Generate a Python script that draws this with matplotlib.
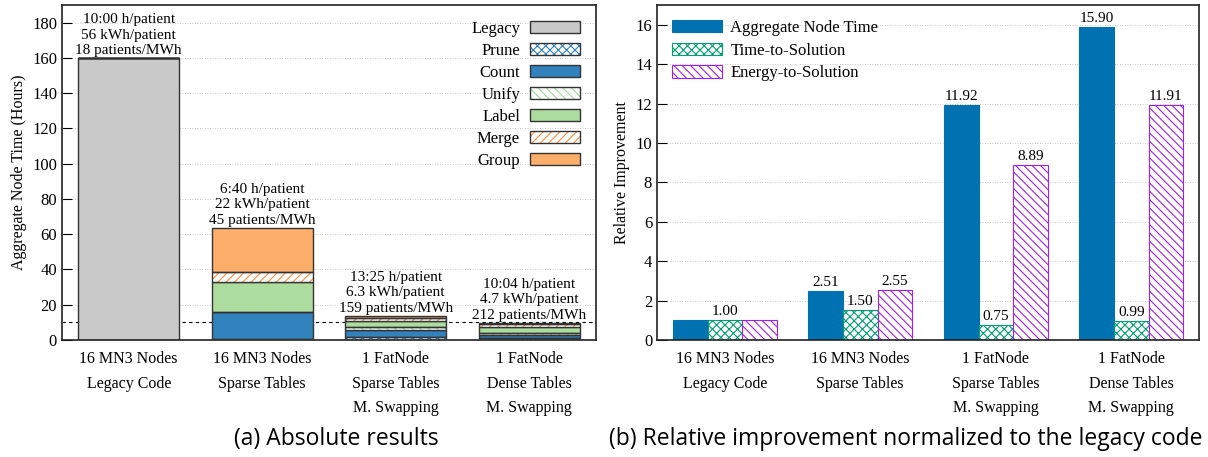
import numpy as np
import matplotlib
matplotlib.use("Agg")
import matplotlib.pyplot as plt
from matplotlib.patches import Patch
from matplotlib.legend_handler import HandlerTuple

plt.rcParams["font.family"] = ["Liberation Serif", "DejaVu Serif"]
plt.rcParams["hatch.linewidth"] = 0.8

# ---- data: (a) absolute, stacked node time in hours
configs = ["16 MN3 Nodes\nLegacy Code", "16 MN3 Nodes\nSparse Tables",
           "1 FatNode\nSparse Tables\nM. Swapping", "1 FatNode\nDense Tables\nM. Swapping"]
legacy = [160, 0, 0, 0]
prune = [0, 0.3, 1.5, 1.1]
count = [0, 15.4, 4.4, 1.5]
unify = [0, 0.2, 1.5, 1.1]
label = [0, 16.9, 3.6, 3.4]
merge = [0, 5.7, 1.7, 1.9]
group = [0, 25.3, 1.0, 0.8]
notes = ["10:00 h/patient\n56 kWh/patient\n18 patients/MWh",
         "6:40 h/patient\n22 kWh/patient\n45 patients/MWh",
         "13:25 h/patient\n6.3 kWh/patient\n159 patients/MWh",
         "10:04 h/patient\n4.7 kWh/patient\n212 patients/MWh"]
ref_line = 10

# ---- data: (b) relative improvement
agg_time = [1.00, 2.51, 11.92, 15.90]
tts = [1.00, 1.50, 0.75, 0.99]
ets = [1.00, 2.55, 8.89, 11.91]
show_agg = [False, True, True, True]
show_tts = [True, True, True, True]
show_ets = [False, True, True, True]

EDGE = "#333333"
# name, values, fill, hatch colour, hatch
STACK = [("Legacy", legacy, "#c9c9c9", None, None),
         ("Prune", prune, "white", "#3182bd", "xxxx"),
         ("Count", count, "#3182bd", None, None),
         ("Unify", unify, "white", "#a1d99b", "\\\\\\\\"),
         ("Label", label, "#addd9e", None, None),
         ("Merge", merge, "white", "#fd8d3c", "////"),
         ("Group", group, "#fdae6b", None, None)]

fig = plt.figure(figsize=(12.08, 4.57), dpi=100)
ax1 = fig.add_axes([0.0513, 0.256, 0.442, 0.733])
ax2 = fig.add_axes([0.5439, 0.256, 0.4487, 0.733])

x = np.arange(len(configs))
w = 0.755
bottom = np.zeros(len(configs))
handles = []
for name, vals, fc, hc, hatch in STACK:
    vals = np.array(vals, dtype=float)
    if hatch:
        ax1.bar(x, vals, w, bottom=bottom, color="white", edgecolor=hc, hatch=hatch, lw=0, zorder=2)
        ax1.bar(x, vals, w, bottom=bottom, fill=False, edgecolor=EDGE, lw=1, zorder=3)
        h = (Patch(facecolor="white", edgecolor=hc, hatch=hatch, lw=0),
             Patch(fill=False, edgecolor=EDGE, lw=1))
    else:
        ax1.bar(x, vals, w, bottom=bottom, color=fc, edgecolor=EDGE, lw=1, zorder=2)
        h = Patch(facecolor=fc, edgecolor=EDGE, lw=1)
    handles.append((h, name))
    bottom += vals

for xi, top, txt in zip(x, bottom, notes):
    ax1.text(xi, top + 0.5, txt, ha="center", va="bottom", fontsize=11, linespacing=1.25, zorder=4)

ax1.axhline(ref_line, color="black", ls=(0, (3, 3)), lw=0.8, zorder=1)
ax1.set_xlim(-0.5, 3.5)
ax1.set_ylim(0, 190)
ax1.set_yticks(np.arange(0, 181, 20))
ax1.set_xticks(x)
ax1.set_xticklabels(configs, linespacing=1.7)
ax1.set_ylabel("Aggregate Node Time (Hours)", fontsize=11.5)
ax1.legend([h for h, _ in handles], [n for _, n in handles], loc="upper right",
           frameon=False, markerfirst=False, fontsize=12, handlelength=3.0,
           handleheight=0.75, labelspacing=0.36, borderaxespad=0.55, handletextpad=0.6,
           handler_map={tuple: HandlerTuple(ndivide=1, pad=0)})

# ---- (b)
bw = 0.255
C_AGG, C_TTS, C_ETS = "#0072b2", "#009e73", "#a020f0"
b1 = ax2.bar(x - bw, agg_time, bw, color=C_AGG, edgecolor=C_AGG, lw=0.8, zorder=2,
             label="Aggregate Node Time")
b2 = ax2.bar(x, tts, bw, color="white", edgecolor=C_TTS, hatch="xxxx", lw=0.8, zorder=2,
             label="Time-to-Solution")
b3 = ax2.bar(x + bw, ets, bw, color="white", edgecolor=C_ETS, hatch="\\\\\\\\", lw=0.8, zorder=2,
             label="Energy-to-Solution")
for bars, vals, show in [(b1, agg_time, show_agg), (b2, tts, show_tts), (b3, ets, show_ets)]:
    for r, v, s in zip(bars, vals, show):
        if s:
            ax2.text(r.get_x() + r.get_width() / 2, v + 0.1, f"{v:.2f}", ha="center",
                     va="bottom", fontsize=11, zorder=4)
ax2.set_xlim(-0.5, 3.5)
ax2.set_ylim(0, 17)
ax2.set_yticks(np.arange(0, 17, 2))
ax2.set_xticks(x)
ax2.set_xticklabels(configs, linespacing=1.7)
ax2.set_ylabel("Relative Improvement", fontsize=11.5)
ax2.legend(loc="upper left", frameon=False, fontsize=12, handlelength=3.0,
           handleheight=0.75, labelspacing=0.4, borderaxespad=0.5, handletextpad=0.5)

for ax in (ax1, ax2):
    ax.yaxis.grid(True, color="#bbbbbb", ls=(0, (1, 2)), lw=0.6)
    ax.set_axisbelow(True)
    ax.tick_params(axis="y", direction="in", length=7, labelsize=12)
    ax.tick_params(axis="x", length=0, labelsize=11.5, pad=8)
    for sp in ax.spines.values():
        sp.set_linewidth(1.2)
        sp.set_color("#222222")

fig.text(0.278, 0.04, "(a) Absolute results", ha="center", va="center",
         fontsize=16.5, family=["Open Sans", "DejaVu Sans"])
fig.text(0.75, 0.04, "(b) Relative improvement normalized to the legacy code", ha="center",
         va="center", fontsize=16.5, family=["Open Sans", "DejaVu Sans"])

fig.savefig("out.png", dpi=100)
